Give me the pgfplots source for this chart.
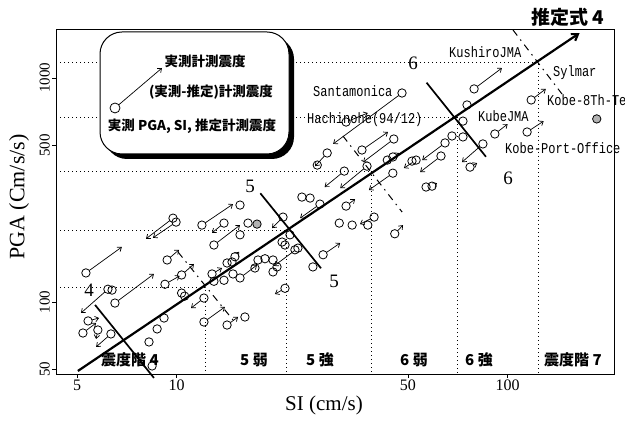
\documentclass[border=0pt]{standalone}
\usepackage{fontspec}
\setmainfont{Liberation Serif}
\newfontfamily\jp{Noto Sans CJK JP}
\newfontfamily\mono[FakeStretch=0.8]{Liberation Mono}
\usepackage{pgfplots}
\pgfplotsset{compat=1.18}
\usetikzlibrary{arrows.meta}

\pgfplotstableread{
si pga
5.32 134.8
6.20 114
6.38 113
6.51 98.9
9.75 236.7
9.96 227.3
11.92 220.4
15.54 270.8
13.9 225
12.96 179.6
15.54 199.5
16.43 225
9.36 154
9.22 120
10.35 132
10.35 109.6
10.57 106.2
12.09 104.1
12.09 81.4
14.2 78.9
16.08 85.7
9.16 84.8
8.73 75.8
8.25 66.3
8.43 51.8
5.40 82.3
5.21 72.7
5.78 75.0
6.33 72.0
14.2 149.3
14.7 150.9
15.0 159.2
12.79 133.4
12.96 123.7
13.9 125
14.8 133.4
15.54 128
17.24 141.8
17.61 154
47.96 857
32.5 635.8
36.3 477
45.3 534
43.3 430
45.0 444
28.5 462.6
26.6 408.5
32.1 384
37.6 404
45.0 376
23.9 294
25.3 291
27.1 273.5
32.5 268
31.0 225
33.9 220.4
39.5 239.3
37.8 220.4
45.6 201.6
27.7 162.5
25.8 143.4
20.96 239.3
20.82 185.2
21.25 179.6
22.0 199.5
23.25 174
18.49 156
19.55 154
20.1 143.4
19.55 136.2
21.25 115.1
22.77 171
79.2 893.8
75.4 758
73.3 642
73.3 545.6
67.9 551
64.7 513
62.9 448.4
51.4 425.6
52.9 430
84.2 507.7
77.0 400
56.7 326
59.1 329
91.5 562.4
114.5 574
117.8 798
}\obs

\pgfplotstableread{
si pga
17.49 222.7
185.9 656.6
}\obsfilled

\tikzset{
  arr/.style={line width=0.7pt, shorten <=4.2pt, -{Straight Barb[length=3.5pt,width=5.5pt]}},
  bnd/.style={line width=1.7pt},
  dd/.style={line width=1pt, dash pattern=on 7pt off 5pt on 1.5pt off 5pt},
  stair/.style={line width=0.8pt, dash pattern=on 1pt off 3pt},
}
\newcommand{\arr}[4]{\addplot[arr] coordinates {(#1,#2) (#3,#4)};}

\begin{document}
\begin{tikzpicture}
\begin{axis}[
  at={(56pt,48pt)}, anchor=south west,
  scale only axis, width=558pt, height=345pt,
  xmode=log, ymode=log,
  xmin=4.32, xmax=209.6, ymin=47.7, ymax=1655,
  xtick={5,10,50,100}, xticklabels={5,10,50,100},
  ytick={50,100,500,1000}, yticklabels={50,100,500,1000},
  minor xtick={}, minor ytick={},
  xtick pos=left, ytick pos=left,
  tick align=outside, major tick length=4pt,
  tick style={line width=0.8pt, black},
  axis line style={line width=0.9pt},
  xticklabel style={font=\fontsize{16}{16}\selectfont, inner sep=2pt},
  yticklabel style={font=\fontsize{15}{15}\selectfont, rotate=90, anchor=south, inner sep=2pt},
  xlabel={SI (cm/s)}, ylabel={PGA (Cm/s/s)},
  xlabel style={font=\fontsize{21}{21}\selectfont, at={(axis description cs:0.4803,-0.0899)}, anchor=center},
  ylabel style={font=\fontsize{22}{22}\selectfont, at={(axis description cs:-0.0663,0.513)}, anchor=center},
  clip=false,
]
% intensity staircase (dotted)
\addplot[stair] coordinates {(4.32,116.7) (12.18,116.7) (12.18,47.7)};
\addplot[stair] coordinates {(4.32,209.7) (21.5,209.7) (21.5,47.7)};
\addplot[stair] coordinates {(4.32,384.5) (38.9,384.5) (38.9,47.7)};
\addplot[stair] coordinates {(4.32,669.8) (70.3,669.8) (70.3,47.7)};
\addplot[stair] coordinates {(4.32,1179) (123.5,1179) (123.5,47.7)};
% regression line
\addplot[line width=2.2pt, -{Straight Barb[length=6pt,width=8pt]}] coordinates {(5.03,49.2) (165,1588)};
% boundary lines
\addplot[bnd] coordinates {(5.67,97.0) (8.54,45.8)};
\addplot[bnd] coordinates {(17.9,305.7) (27.3,141.4)};
\addplot[bnd] coordinates {(56.9,953) (86.0,445)};
\addplot[dd] coordinates {(10.1,167) (14.8,83.1)};
\addplot[dd] coordinates {(31.8,551) (48.0,252)};
\addplot[dd] coordinates {(103.8,1638) (146,848)};
% arrows
\arr{5.32}{134.8}{6.83}{176}
\arr{6.20}{114}{5.14}{89.3}
\arr{6.51}{98.9}{8.54}{133.4}
\arr{9.75}{236.7}{8.08}{191.5}
\arr{9.96}{227.3}{8.48}{193.4}
\arr{11.92}{220.4}{14.8}{273.5}
\arr{13.9}{225}{12.79}{203.6}
\arr{12.96}{179.6}{15.54}{220.4}
\arr{9.36}{154}{10.17}{171}
\arr{9.22}{120}{10.21}{130.7}
\arr{10.35}{132}{11.28}{147.8}
\arr{12.09}{104.1}{11.05}{93.9}
\arr{12.09}{81.4}{13.99}{95.0}
\arr{14.2}{78.9}{15.33}{85.7}
\arr{5.40}{82.3}{5.83}{84.8}
\arr{5.21}{72.7}{5.71}{80.6}
\arr{5.78}{75.0}{5.71}{68.4}
\arr{6.33}{72.0}{5.71}{63.0}
\arr{15.0}{159.2}{15.44}{167.5}
\arr{12.79}{133.4}{13.71}{141.8}
\arr{15.54}{128}{17.49}{146.3}
\arr{47.96}{857}{29.7}{507.7}
\arr{32.5}{635.8}{37.8}{698}
\arr{36.3}{477}{43.5}{574}
\arr{45.3}{534}{36.6}{421}
\arr{45.0}{444}{46.97}{462.6}
\arr{28.5}{462.6}{26.2}{404}
\arr{32.1}{384}{28.0}{326}
\arr{37.6}{404}{31.2}{322}
\arr{45.0}{376}{38.1}{316}
\arr{27.1}{273.5}{23.6}{236.7}
\arr{32.5}{268}{34.6}{288}
\arr{39.5}{239.3}{35.8}{222.7}
\arr{45.6}{201.6}{48.3}{220.4}
\arr{27.7}{162.5}{31.2}{183.3}
\arr{20.96}{239.3}{19.42}{213.7}
\arr{23.25}{174}{19.69}{144.8}
\arr{21.25}{115.1}{19.82}{108.5}
\arr{79.2}{893.8}{96.1}{1108}
\arr{64.7}{513}{55.2}{430}
\arr{62.9}{448.4}{54.4}{380}
\arr{52.9}{430}{48.6}{396}
\arr{84.2}{507.7}{72.8}{421}
\arr{77.0}{400}{80.9}{417}
\arr{59.1}{329}{61.2}{339.4}
\arr{91.5}{562.4}{100}{623}
\arr{114.5}{574}{128.5}{642}
\arr{117.8}{798}{130.4}{893.8}
% circles
\addplot[only marks, mark=o, mark size=4.2pt, mark options={line width=0.8pt}] table[x=si,y=pga] {\obs};
\addplot[only marks, mark=*, mark size=4.2pt, mark options={line width=0.8pt, fill=gray!60, draw=black}] table[x=si,y=pga] {\obsfilled};
\end{axis}

\begin{scope}[x=1pt,y=-1pt,shift={(0pt,422pt)}]
% legend box
\fill[rounded corners=22pt] (105,37) rectangle (294,159);
\draw[fill=white, line width=1pt, rounded corners=22pt] (100,32) rectangle (289,154);
\draw[line width=0.8pt] (115,108) circle (5pt);
\draw[arr, shorten <=5pt] (115,108) -- (162,68);
\begin{scope}[every node/.style={font=\jp\bfseries\fontsize{13.5}{14}\selectfont, inner sep=0pt}]
\node at (205,61) {実測計測震度};
\node at (211,92) {(実測-推定)計測震度};
\node at (192,126) {実測 PGA, SI, 推定計測震度};
% bottom intensity labels
\node[font=\jp\bfseries\fontsize{15}{15}\selectfont] at (130,360) {震度階 4};
\node[font=\jp\bfseries\fontsize{15}{15}\selectfont] at (254,360) {5 弱};
\node[font=\jp\bfseries\fontsize{15}{15}\selectfont] at (320,360) {5 強};
\node[font=\jp\bfseries\fontsize{15}{15}\selectfont] at (414,360) {6 弱};
\node[font=\jp\bfseries\fontsize{15}{15}\selectfont] at (479,360) {6 強};
\node[font=\jp\bfseries\fontsize{15}{15}\selectfont] at (573,360) {震度階 7};
\node[font=\jp\bfseries\fontsize{19}{19}\selectfont] at (568,17) {推定式 4};
\end{scope}
% station names
\begin{scope}[every node/.style={font=\mono\fontsize{15}{15}\selectfont, inner sep=0pt, anchor=west}]
\node at (449,52) {KushiroJMA};
\node at (553,73) {Sylmar};
\node at (547,100) {Kobe-8Th-Te};
\node at (478,116) {KubeJMA};
\node at (505,148) {Kobe-Port-Office};
\node at (313,91) {Santamonica};
\node at (307,120) {Hachinohe(94/12)};
\end{scope}
% boundary numbers
\begin{scope}[every node/.style={font=\fontsize{19}{19}\selectfont, inner sep=0pt}]
\node at (89,290) {4};
\node at (250,186) {5};
\node at (334,281) {5};
\node at (413,63) {6};
\node at (508,178) {6};
\end{scope}
\pgfresetboundingbox
\path[use as bounding box] (0,0) rectangle (625,422);
\end{scope}
\end{tikzpicture}
\end{document}
